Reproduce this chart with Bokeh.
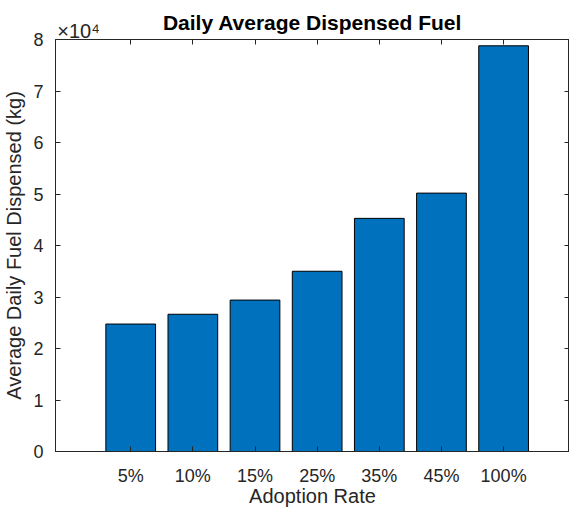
from bokeh.plotting import figure
from bokeh.models import Range1d, LinearAxis, FixedTicker
from bokeh.embed import file_html
from bokeh.resources import INLINE

categories = ["5%", "10%", "15%", "25%", "35%", "45%", "100%"]
fuel_kg = [24750, 26650, 29400, 35000, 45270, 50170, 78780]
y_ticks = [0, 10000, 20000, 30000, 40000, 50000, 60000, 70000, 80000]
y_tick_labels = ["0", "1", "2", "3", "4", "5", "6", "7", "8"]
exponent_label = "×10⁴"
title_text = "Daily Average Dispensed Fuel"

FONT = "Liberation Sans"
AX = "#262626"
PAD_L = 1.21
PAD_R = 1.06

x_pos = [i + 1 for i in range(len(categories))]

p = figure(width=569, height=509,
           x_range=Range1d(1 - PAD_L, len(categories) + PAD_R),
           y_range=Range1d(0, 80000),
           output_backend="svg", toolbar_location=None, title_location=None,
           min_border_left=53, min_border_right=0, min_border_top=39, min_border_bottom=50)

p.vbar(x=x_pos, top=fuel_kg, width=0.8, fill_color="#0072BD", line_color="black", line_width=1)

p.xgrid.visible = False
p.ygrid.visible = False
p.outline_line_color = AX
p.outline_line_alpha = 1.0

def style(ax):
    ax.axis_line_color = AX
    ax.major_tick_line_color = AX
    ax.major_tick_in = 5
    ax.major_tick_out = 0
    ax.minor_tick_line_color = None
    ax.major_label_text_font = FONT
    ax.major_label_text_color = AX
    ax.major_label_text_font_size = "18px"
    ax.axis_label_text_font = FONT
    ax.axis_label_text_font_size = "20px"
    ax.axis_label_text_font_style = "normal"
    ax.axis_label_text_color = AX

xa = p.xaxis[0]
style(xa)
xa.ticker = FixedTicker(ticks=x_pos)
xa.major_label_overrides = {x: c for x, c in zip(x_pos, categories)}
xa.axis_label = "Adoption Rate"
xa.major_label_standoff = 14
xa.axis_label_standoff = -4

ya = p.yaxis[0]
style(ya)
ya.ticker = FixedTicker(ticks=y_ticks)
ya.major_label_overrides = {t: l for t, l in zip(y_ticks, y_tick_labels)}
ya.axis_label = "Average Daily Fuel Dispensed (kg)"
ya.major_label_standoff = 12
ya.axis_label_standoff = 5

top = LinearAxis(ticker=FixedTicker(ticks=x_pos))
style(top)
top.major_label_text_color = None
top.major_label_standoff = 0
p.add_layout(top, "above")

# exponent marker and title, drawn by a second top axis
exp_pos = 1 - PAD_L + 0.37
head = LinearAxis(ticker=FixedTicker(ticks=[exp_pos]))
style(head)
head.axis_line_color = None
head.major_tick_line_color = None
head.major_label_overrides = {exp_pos: exponent_label}
head.major_label_text_font_size = "20px"
head.major_label_standoff = -2
head.axis_label = title_text
head.axis_label_text_font_size = "21px"
head.axis_label_text_font_style = "bold"
head.axis_label_text_color = "black"
head.axis_label_standoff = -17
p.add_layout(head, "above")

right = LinearAxis(ticker=FixedTicker(ticks=y_ticks))
style(right)
right.major_label_text_color = None
right.major_label_standoff = 0
p.add_layout(right, "right")

open("out.html", "w").write(file_html(p, INLINE))
